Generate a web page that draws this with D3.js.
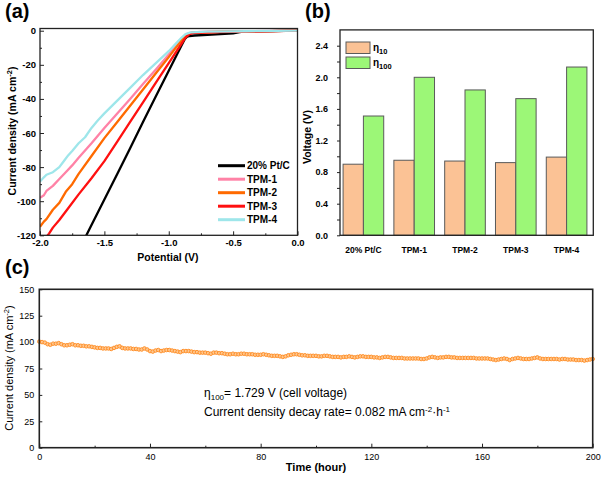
<!DOCTYPE html>
<html lang="en">
<head>
<meta charset="UTF-8">
<title>d3</title>
<style type="text/css">
  body { margin: 0; background: #fff; }
  svg text { font-family: Arial, "Liberation Sans", sans-serif; fill: #000; }
</style>
</head>
<body>
<div id="chart"></div>
<script src="https://d3js.org/d3.v7.min.js"></script>
<script>
// ---- (a) LSV curves: [potential (V), current density (mA cm-2)]
var ptc = [[-1.65,-121.5],[-1.6,-114],[-1.5,-99],[-1.4,-84],[-1.3,-69],[-1.2,-53.5],[-1.1,-38.5],[-1.0,-23.5],[-0.9,-8.5],[-0.875,-4.8],[-0.86,-3.6],[-0.84,-3.1],[-0.8,-2.8],[-0.7,-2.4],[-0.6,-2],[-0.5,-1.5],[-0.45,-0.8],[-0.4,-0.4],[-0.2,-0.2],[0,0]];
var tpm1 = [[-2.0,-98],[-1.97,-96.5],[-1.95,-94],[-1.9,-91],[-1.85,-87],[-1.8,-83],[-1.75,-79],[-1.7,-74.5],[-1.6,-66],[-1.5,-57],[-1.4,-48.5],[-1.3,-40],[-1.2,-31.3],[-1.1,-22.7],[-1.0,-14],[-0.95,-9.5],[-0.9,-5],[-0.86,-2],[-0.82,-1],[-0.7,-0.5],[0,0]];
var tpm2 = [[-2.0,-115],[-1.97,-112],[-1.95,-110.5],[-1.9,-105],[-1.85,-101],[-1.8,-94.5],[-1.75,-90],[-1.7,-84],[-1.6,-73.5],[-1.5,-63],[-1.4,-53.5],[-1.3,-44],[-1.2,-34.5],[-1.1,-25],[-1.0,-15.5],[-0.95,-10.5],[-0.9,-5.5],[-0.86,-2.5],[-0.82,-1.2],[-0.6,-0.6],[0,0]];
var tpm3 = [[-1.96,-122],[-1.93,-119],[-1.9,-115.5],[-1.85,-111],[-1.8,-106],[-1.7,-96],[-1.6,-86.5],[-1.5,-76.5],[-1.4,-65],[-1.3,-53.5],[-1.2,-42],[-1.1,-30.5],[-1.0,-19],[-0.9,-7.5],[-0.87,-4],[-0.84,-2],[-0.8,-1.2],[-0.6,-0.8],[0,0]];
var tpm4 = [[-2.0,-88.5],[-1.97,-86],[-1.95,-84.5],[-1.9,-83],[-1.85,-80],[-1.82,-77],[-1.78,-73],[-1.75,-70.5],[-1.7,-66],[-1.65,-62.5],[-1.6,-57],[-1.55,-52.5],[-1.5,-48.5],[-1.4,-41],[-1.3,-33.5],[-1.2,-26],[-1.1,-19],[-1.0,-12],[-0.95,-8],[-0.9,-4],[-0.87,-2],[-0.83,-1],[-0.7,-0.5],[-0.4,-0.3],[0,0]];
var lsvNames = ['20% Pt/C', 'TPM-1', 'TPM-2', 'TPM-3', 'TPM-4'];
var lsvColors = ['#000000', '#FF82A6', '#FF6A00', '#FF1010', '#9EE6EA'];
var potTicks = [-2.0, -1.5, -1.0, -0.5, 0.0];
var jTicks = [-120, -100, -80, -60, -40, -20, 0];

// ---- (b) overpotentials
var catsB = ['20% Pt/C', 'TPM-1', 'TPM-2', 'TPM-3', 'TPM-4'];
var eta10 = [0.90, 0.95, 0.94, 0.92, 0.99];
var eta100 = [1.51, 2.00, 1.84, 1.73, 2.13];
var voltTicks = [0.0, 0.4, 0.8, 1.2, 1.6, 2.0, 2.4];

// ---- (c) stability, one point per hour (0..200 h)
var stabJ = [
  100.5, 100, 99.5, 98, 97.5, 98.5, 98.5, 99, 98, 97,
  97, 97.5, 98, 97, 97, 96.5, 96.5, 96, 96, 95.5,
  95, 94.5, 94.5, 94, 94, 94, 93.5, 94.5, 95.5, 96,
  94.5, 94, 94, 94, 93.5, 93.5, 93, 93, 94, 93,
  91.5, 91, 92, 92.5, 91.5, 92, 92.5, 92.5, 92, 91.5,
  91, 90.5, 91.5, 91.5, 91.5, 91, 90.5, 90.5, 90, 90,
  90, 89.5, 89, 90, 90, 89.5, 89.5, 89, 88.5, 88.5,
  89, 88.5, 88.5, 89, 89, 88.5, 88.5, 88.5, 88, 88,
  88, 88.5, 88, 87.5, 87, 87, 87, 86.5, 86, 86.5,
  87.5, 88, 88.5, 88.5, 88, 87.5, 87.5, 87, 87, 87,
  87, 86.5, 86.5, 87, 87, 86.5, 86, 86, 86, 85.5,
  86, 86, 86.5, 86, 85.5, 86, 86.5, 86.5, 86, 86,
  86, 85.5, 85.5, 85, 85.5, 86, 86, 85.5, 85, 85,
  85, 85, 84.5, 84.5, 84.5, 84.5, 84.5, 84.5, 84, 84,
  84.5, 85.5, 86, 85.5, 85, 85.5, 85.5, 86, 86, 85.5,
  85.5, 85, 85, 85, 85, 85, 85, 85, 84.5, 84.5,
  84.5, 84.5, 84.5, 84, 83.5, 83, 83.5, 84, 84.5, 84,
  83, 84, 84.5, 85, 84.5, 84, 84, 84, 84.5, 85,
  85.5, 84.5, 84, 84, 84, 84, 84, 84, 83.5, 84,
  84, 83.5, 83.5, 83.5, 83, 83, 83, 82.5, 83, 83.5,
  84
];
var timeTicks = [0, 40, 80, 120, 160, 200];
var stabTicks = [0, 25, 50, 75, 100, 125, 150];

var svg = d3.select('#chart')
  .append('svg')
  .attr('width', 602)
  .attr('height', 477);

svg.append('rect').attr('width', 602).attr('height', 477).attr('fill', '#fff');

function tidy(g, size, weight) {
  g.select('.domain').remove();
  g.selectAll('line').attr('stroke', '#222');
  g.selectAll('text').style('font-size', size + 'px').style('font-weight', weight);
}

function frame(x0, y0, x1, y1, w) {
  svg.append('rect')
    .attr('x', x0).attr('y', y0)
    .attr('width', x1 - x0).attr('height', y1 - y0)
    .attr('fill', 'none').attr('stroke', '#222').attr('stroke-width', w);
}

function panelLabel(txt, x, y) {
  svg.append('text').attr('x', x).attr('y', y)
    .style('font-size', '20px').style('font-weight', 'bold').text(txt);
}

// ================= (a) =================
var xA = d3.scaleLinear().domain([-2, 0]).range([40, 297.5]);
var yA = d3.scaleLinear().domain([-120, 1.3]).range([235.3, 28.5]);

svg.append('clipPath').attr('id', 'clipA')
  .append('rect').attr('x', 40).attr('y', 28.5).attr('width', 257.5).attr('height', 206.8);

svg.append('g').attr('transform', 'translate(0,235.3)')
  .call(d3.axisBottom(xA).tickValues(potTicks).tickSize(-4).tickPadding(4).tickFormat(d => d.toFixed(1)))
  .call(g => tidy(g, 9.5, 'bold'));
svg.append('g').attr('transform', 'translate(0,235.3)')
  .call(d3.axisBottom(xA).tickValues([-1.75, -1.25, -0.75, -0.25]).tickSize(-2).tickFormat(''))
  .call(g => tidy(g, 9.5, 'bold'));
svg.append('g').attr('transform', 'translate(40,0)')
  .call(d3.axisLeft(yA).tickValues(jTicks).tickSize(-4).tickPadding(4).tickFormat(d => String(d)))
  .call(g => tidy(g, 9.5, 'bold'));
svg.append('g').attr('transform', 'translate(40,0)')
  .call(d3.axisLeft(yA).tickValues([-110, -90, -70, -50, -30, -10]).tickSize(-2).tickFormat(''))
  .call(g => tidy(g, 9.5, 'bold'));

var lineA = d3.line().x(d => xA(d[0])).y(d => yA(d[1]));
var curves = [ptc, tpm1, tpm2, tpm3, tpm4];
curves.forEach((c, i) => {
  svg.append('path')
    .datum(c)
    .attr('d', lineA)
    .attr('clip-path', 'url(#clipA)')
    .attr('fill', 'none')
    .attr('stroke', lsvColors[i])
    .attr('stroke-width', 2.3)
    .attr('stroke-linejoin', 'round');
});
frame(40, 28.5, 297.5, 235.3, 1.3);

// legend
lsvNames.forEach((n, i) => {
  var ly = 165.7 + i * 13.5;
  svg.append('line').attr('x1', 218).attr('x2', 245).attr('y1', ly).attr('y2', ly)
    .attr('stroke', lsvColors[i]).attr('stroke-width', 3);
  svg.append('text').attr('x', 247).attr('y', ly).attr('dy', '0.36em')
    .style('font-size', '10px').style('font-weight', 'bold').text(n);
});

var ytA = svg.append('text')
  .attr('transform', 'translate(16,131) rotate(-90)')
  .attr('text-anchor', 'middle')
  .style('font-size', '10.5px').style('font-weight', 'bold');
ytA.append('tspan').text('Current density (mA cm');
ytA.append('tspan').attr('dy', -4).style('font-size', '7.5px').text('-2');
ytA.append('tspan').attr('dy', 4).text(')');

svg.append('text').attr('x', 168).attr('y', 261).attr('text-anchor', 'middle')
  .style('font-size', '10.5px').style('font-weight', 'bold').text('Potential (V)');

panelLabel('(a)', 5, 18);

// ================= (b) =================
var xB = d3.scaleBand().domain(catsB).range([338, 592]).paddingInner(0.2).paddingOuter(0.1);
var xSub = d3.scaleBand().domain(['eta10', 'eta100']).range([0, xB.bandwidth()]);
var yB = d3.scaleLinear().domain([0, 2.6]).range([235.3, 29.9]);
var barFill = { eta10: '#FBC295', eta100: '#9CF777' };

svg.append('g').attr('transform', 'translate(340,0)')
  .call(d3.axisLeft(yB).tickValues(voltTicks).tickSize(3).tickPadding(9).tickFormat(d => d.toFixed(1)))
  .call(g => tidy(g, 9, 'bold'));
svg.append('g').attr('transform', 'translate(340,0)')
  .call(d3.axisLeft(yB).tickValues([0.2, 0.6, 1.0, 1.4, 1.8, 2.2]).tickSize(3).tickFormat(''))
  .call(g => tidy(g, 9, 'bold'));

var groups = svg.append('g').selectAll('g')
  .data(catsB)
  .join('g')
  .attr('transform', d => `translate(${xB(d)},0)`);
groups.append('rect')
  .attr('x', xSub('eta10')).attr('width', xSub.bandwidth())
  .attr('y', (d, i) => yB(eta10[i])).attr('height', (d, i) => yB(0) - yB(eta10[i]))
  .attr('fill', barFill.eta10).attr('stroke', '#5a5a5a').attr('stroke-width', 1);
groups.append('rect')
  .attr('x', xSub('eta100')).attr('width', xSub.bandwidth())
  .attr('y', (d, i) => yB(eta100[i])).attr('height', (d, i) => yB(0) - yB(eta100[i]))
  .attr('fill', barFill.eta100).attr('stroke', '#5a5a5a').attr('stroke-width', 1);

svg.append('g').selectAll('text')
  .data(catsB)
  .join('text')
  .attr('x', d => xB(d) + xB.bandwidth() / 2)
  .attr('y', 253)
  .attr('text-anchor', 'middle')
  .style('font-size', '8.5px').style('font-weight', 'bold')
  .text(d => d);

frame(340, 29.9, 593.3, 235.3, 1.3);

// legend
[['eta10', '10', 42], ['eta100', '100', 57]].forEach(r => {
  svg.append('rect').attr('x', 346).attr('y', r[2]).attr('width', 24).attr('height', 11.5)
    .attr('fill', barFill[r[0]]).attr('stroke', '#5a5a5a').attr('stroke-width', 1);
  var t = svg.append('text').attr('x', 373).attr('y', r[2] + 8.5)
    .style('font-size', '10px').style('font-weight', 'bold');
  t.append('tspan').text('η');
  t.append('tspan').attr('dy', 3).style('font-size', '7.5px').text(r[1]);
});

svg.append('text')
  .attr('transform', 'translate(311,137) rotate(-90)')
  .attr('text-anchor', 'middle')
  .style('font-size', '10.5px').style('font-weight', 'bold')
  .text('Voltage (V)');

panelLabel('(b)', 305, 18);

// ================= (c) =================
var xC = d3.scaleLinear().domain([0, 200]).range([39.3, 592.7]);
var yC = d3.scaleLinear().domain([0, 150]).range([447.7, 289.3]);

svg.append('g').attr('transform', 'translate(0,447.7)')
  .call(d3.axisBottom(xC).tickValues(timeTicks).tickSize(-4).tickPadding(6).tickFormat(d => String(d)))
  .call(g => tidy(g, 9, 'normal'));
svg.append('g').attr('transform', 'translate(0,447.7)')
  .call(d3.axisBottom(xC).tickValues([20, 60, 100, 140, 180]).tickSize(-2).tickFormat(''))
  .call(g => tidy(g, 9, 'normal'));
svg.append('g').attr('transform', 'translate(39.3,0)')
  .call(d3.axisLeft(yC).tickValues(stabTicks).tickSize(-3).tickPadding(5).tickFormat(d => String(d)))
  .call(g => tidy(g, 9, 'normal'));

svg.append('g').selectAll('circle')
  .data(stabJ)
  .join('circle')
  .attr('cx', (d, i) => xC(i))
  .attr('cy', d => yC(d))
  .attr('r', 1.8)
  .attr('fill', '#FFC78F')
  .attr('stroke', '#FF8A1F')
  .attr('stroke-width', 0.9);

frame(39.3, 289.3, 592.7, 447.7, 1.6);

var ytC = svg.append('text')
  .attr('transform', 'translate(13,368) rotate(-90)')
  .attr('text-anchor', 'middle')
  .style('font-size', '11px');
ytC.append('tspan').text('Current density (mA cm');
ytC.append('tspan').attr('dy', -4).style('font-size', '7.5px').text('-2');
ytC.append('tspan').attr('dy', 4).text(')');

svg.append('text').attr('x', 316).attr('y', 471).attr('text-anchor', 'middle')
  .style('font-size', '11px').style('font-weight', 'bold').text('Time (hour)');

var n1 = svg.append('text').attr('x', 204).attr('y', 397).style('font-size', '12px');
n1.append('tspan').text('η');
n1.append('tspan').attr('dy', 3).style('font-size', '8px').text('100');
n1.append('tspan').attr('dy', -3).text('= 1.729 V (cell voltage)');

var n2 = svg.append('text').attr('x', 204).attr('y', 415.5).style('font-size', '12px');
n2.append('tspan').text('Current density decay rate= 0.082 mA cm');
n2.append('tspan').attr('dy', -4).style('font-size', '8px').text('-2');
n2.append('tspan').attr('dy', 4).text('·h');
n2.append('tspan').attr('dy', -4).style('font-size', '8px').text('-1');

panelLabel('(c)', 5, 274);
</script>
</body>
</html>
